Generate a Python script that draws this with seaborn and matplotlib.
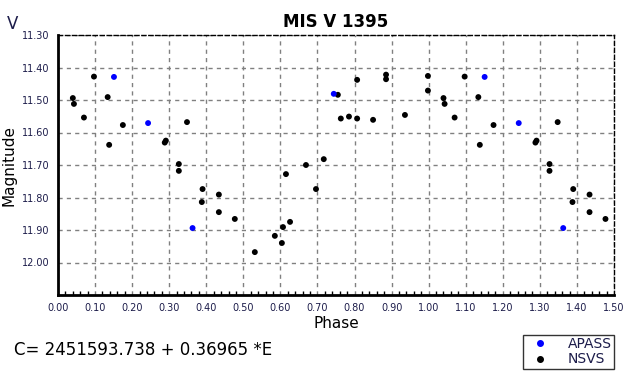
import numpy as np
import pandas as pd
import matplotlib.pyplot as plt
import seaborn as sns
from matplotlib.ticker import MultipleLocator, FormatStrFormatter
from matplotlib.lines import Line2D

# phase (0..1) and V magnitude
nsvs_phase = [0.040, 0.043, 0.070, 0.097, 0.134, 0.138, 0.175, 0.288, 0.291,
              0.326, 0.326, 0.348, 0.390, 0.388, 0.434, 0.434, 0.477, 0.531,
              0.585, 0.604, 0.607, 0.626, 0.615, 0.669, 0.696, 0.717, 0.755,
              0.763, 0.785, 0.807, 0.807, 0.850, 0.885, 0.885, 0.936, 0.998,
              0.998]
nsvs_mag = [11.494, 11.512, 11.554, 11.428, 11.491, 11.638, 11.577, 11.631,
            11.625, 11.697, 11.718, 11.568, 11.774, 11.814, 11.791, 11.845,
            11.866, 11.968, 11.918, 11.940, 11.891, 11.875, 11.728, 11.700,
            11.774, 11.682, 11.484, 11.557, 11.551, 11.557, 11.438, 11.561,
            11.422, 11.436, 11.546, 11.426, 11.471]

apass_phase = [0.151, 0.243, 0.363, 0.744]
apass_mag = [11.429, 11.571, 11.894, 11.481]

# Step 1 - build the table, repeating the first half of the phase at +1
rows = []
for src, ph, mg in [('NSVS', nsvs_phase, nsvs_mag), ('APASS', apass_phase, apass_mag)]:
    for p, m in zip(ph, mg):
        rows.append((src, p, m))
        if p < 0.5:
            rows.append((src, p + 1, m))
df = pd.DataFrame(rows, columns=['Source', 'Phase', 'Magnitude'])

sns.set_style('white')
plt.rcParams['font.family'] = ['DejaVu Sans']

fig = plt.figure(figsize=(6.37, 3.86), dpi=100)
ax = fig.add_axes([58 / 637, 1 - 295 / 386, 556 / 637, 260 / 386])

colors = {'APASS': '#0000ff', 'NSVS': '#000000'}
sns.scatterplot(data=df, x='Phase', y='Magnitude', hue='Source', palette=colors,
                marker='o', s=18, edgecolor='none', legend=False, ax=ax, zorder=3)

ax.set_xlim(0, 1.5)
ax.set_ylim(12.10, 11.30)
ax.xaxis.set_major_locator(MultipleLocator(0.1))
ax.xaxis.set_minor_locator(MultipleLocator(0.02))
ax.xaxis.set_major_formatter(FormatStrFormatter('%.2f'))
ax.yaxis.set_major_formatter(FormatStrFormatter('%.2f'))

# labels below 12.00 are not shown
ax.set_yticks([11.3, 11.4, 11.5, 11.6, 11.7, 11.8, 11.9, 12.0])

ax.grid(True, which='major', color='#808080', linestyle=(0, (3, 3)), linewidth=1)
ax.tick_params(axis='both', which='major', labelsize=7, colors='#000000',
               labelcolor='#1c1c4a', length=0, pad=6)
ax.tick_params(axis='x', which='minor', direction='in', length=3, width=1,
               color='black', bottom=True)

for side in ['left', 'bottom']:
    ax.spines[side].set_linewidth(2)
    ax.spines[side].set_color('black')
for side in ['top', 'right']:
    ax.spines[side].set_linewidth(1)
    ax.spines[side].set_linestyle((0, (3, 2)))
    ax.spines[side].set_color('black')

ax.set_xlabel('Phase', fontsize=11, color='black', labelpad=2)
ax.set_ylabel('Magnitude', fontsize=11, color='black', labelpad=4)
ax.set_title('MIS V 1395', fontsize=12, fontweight='bold', color='black', pad=6)

fig.text(7 / 637, 1 - 24 / 386, 'V', fontsize=12, color='#1c1c4a', va='center')
fig.text(14 / 637, 1 - 350 / 386, 'C= 2451593.738 + 0.36965 *E', fontsize=12,
         color='black', va='center')

handles = [Line2D([], [], marker='o', color='#0000ff', linestyle='none', markersize=4),
           Line2D([], [], marker='o', color='black', linestyle='none', markersize=4)]
leg = fig.legend(handles, ['APASS', 'NSVS'], loc='upper right',
                 bbox_to_anchor=(614 / 637, 1 - 335 / 386), fontsize=10,
                 frameon=True, fancybox=False, edgecolor='black',
                 handletextpad=0.9, labelspacing=0.1, borderpad=0.15,
                 handlelength=2.2, borderaxespad=0)
leg.get_frame().set_linewidth(1)
for t in leg.get_texts():
    t.set_color('#1c1c4a')

fig.savefig('out.png', dpi=100)
